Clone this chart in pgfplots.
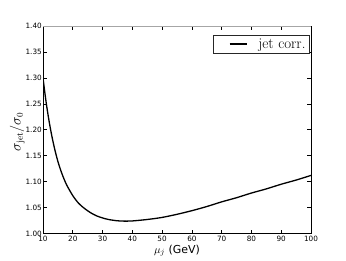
\documentclass[border=0pt]{standalone}
\usepackage{pgfplots}
\pgfplotsset{compat=1.18}
\usepackage{fontspec}
\setsansfont{DejaVu Sans}
\pgfplotstableread{
x y
10 1.300
11 1.255
12 1.218
13 1.187
14 1.161
15 1.139
16 1.121
17 1.106
18 1.093
20 1.073
22 1.058
24 1.048
26 1.040
28 1.034
30 1.030
32 1.027
35 1.0245
38 1.0238
40 1.0242
45 1.027
50 1.031
55 1.037
60 1.044
65 1.052
70 1.061
75 1.069
80 1.078
85 1.086
90 1.095
95 1.103
100 1.112
}\datatable
\begin{document}
\begin{tikzpicture}[x=1bp,y=1bp]
\begin{axis}[
  at={(0,0)}, anchor=south west,
  scale only axis,
  width=268bp, height=207.5bp,
  xmin=10, xmax=100, ymin=1.0, ymax=1.4,
  xtick={10,20,...,100},
  ytick={1.00,1.05,1.10,1.15,1.20,1.25,1.30,1.35,1.40},
  tick align=inside,
  major tick length=4bp,
  minor tick num=0,
  axis line style={line width=0.9bp, black},
  every tick/.style={black, line width=0.6bp},
  /pgf/number format/assume math mode=true,
  yticklabel style={/pgf/number format/fixed, /pgf/number format/fixed zerofill, /pgf/number format/precision=2, inner sep=1bp},
  ticklabel style={font=\sffamily\fontsize{7.3}{8}\selectfont},
  xticklabel style={inner sep=1bp, yshift=-1.5bp},
  xlabel={$\mu_j$ {\sffamily(GeV)}},
  xlabel style={font=\fontsize{11}{12}\selectfont, at={(axis description cs:0.5,-0.094)}, anchor=base},
  ylabel={$\sigma_{\rm jet}/\sigma_0$},
  ylabel style={font=\fontsize{13.5}{14}\selectfont, at={(axis description cs:-0.096,0.49)}, anchor=center},
  legend style={at={(axis description cs:0.994,0.959)}, anchor=north east,
    draw=black!85, line width=0.8bp, font=\fontsize{15}{16}\selectfont,
    inner xsep=1.5bp, inner ysep=1.5bp},
  legend image code/.code={\draw[#1, line width=1.1bp] (0bp,0bp) -- (17bp,0bp); \path (-14bp,0bp) (26bp,0bp);},
]
\addplot[black, line width=1.3bp, smooth] table[x=x,y=y] {\datatable};
\addlegendentry{jet corr.}
\draw[gray!70, line width=1.5bp] (rel axis cs:0,1) -- (rel axis cs:1,1);
\end{axis}
\pgfresetboundingbox
\path[use as bounding box] (-43bp,-27.5bp) rectangle (303bp,233.5bp);
\end{tikzpicture}
\end{document}
